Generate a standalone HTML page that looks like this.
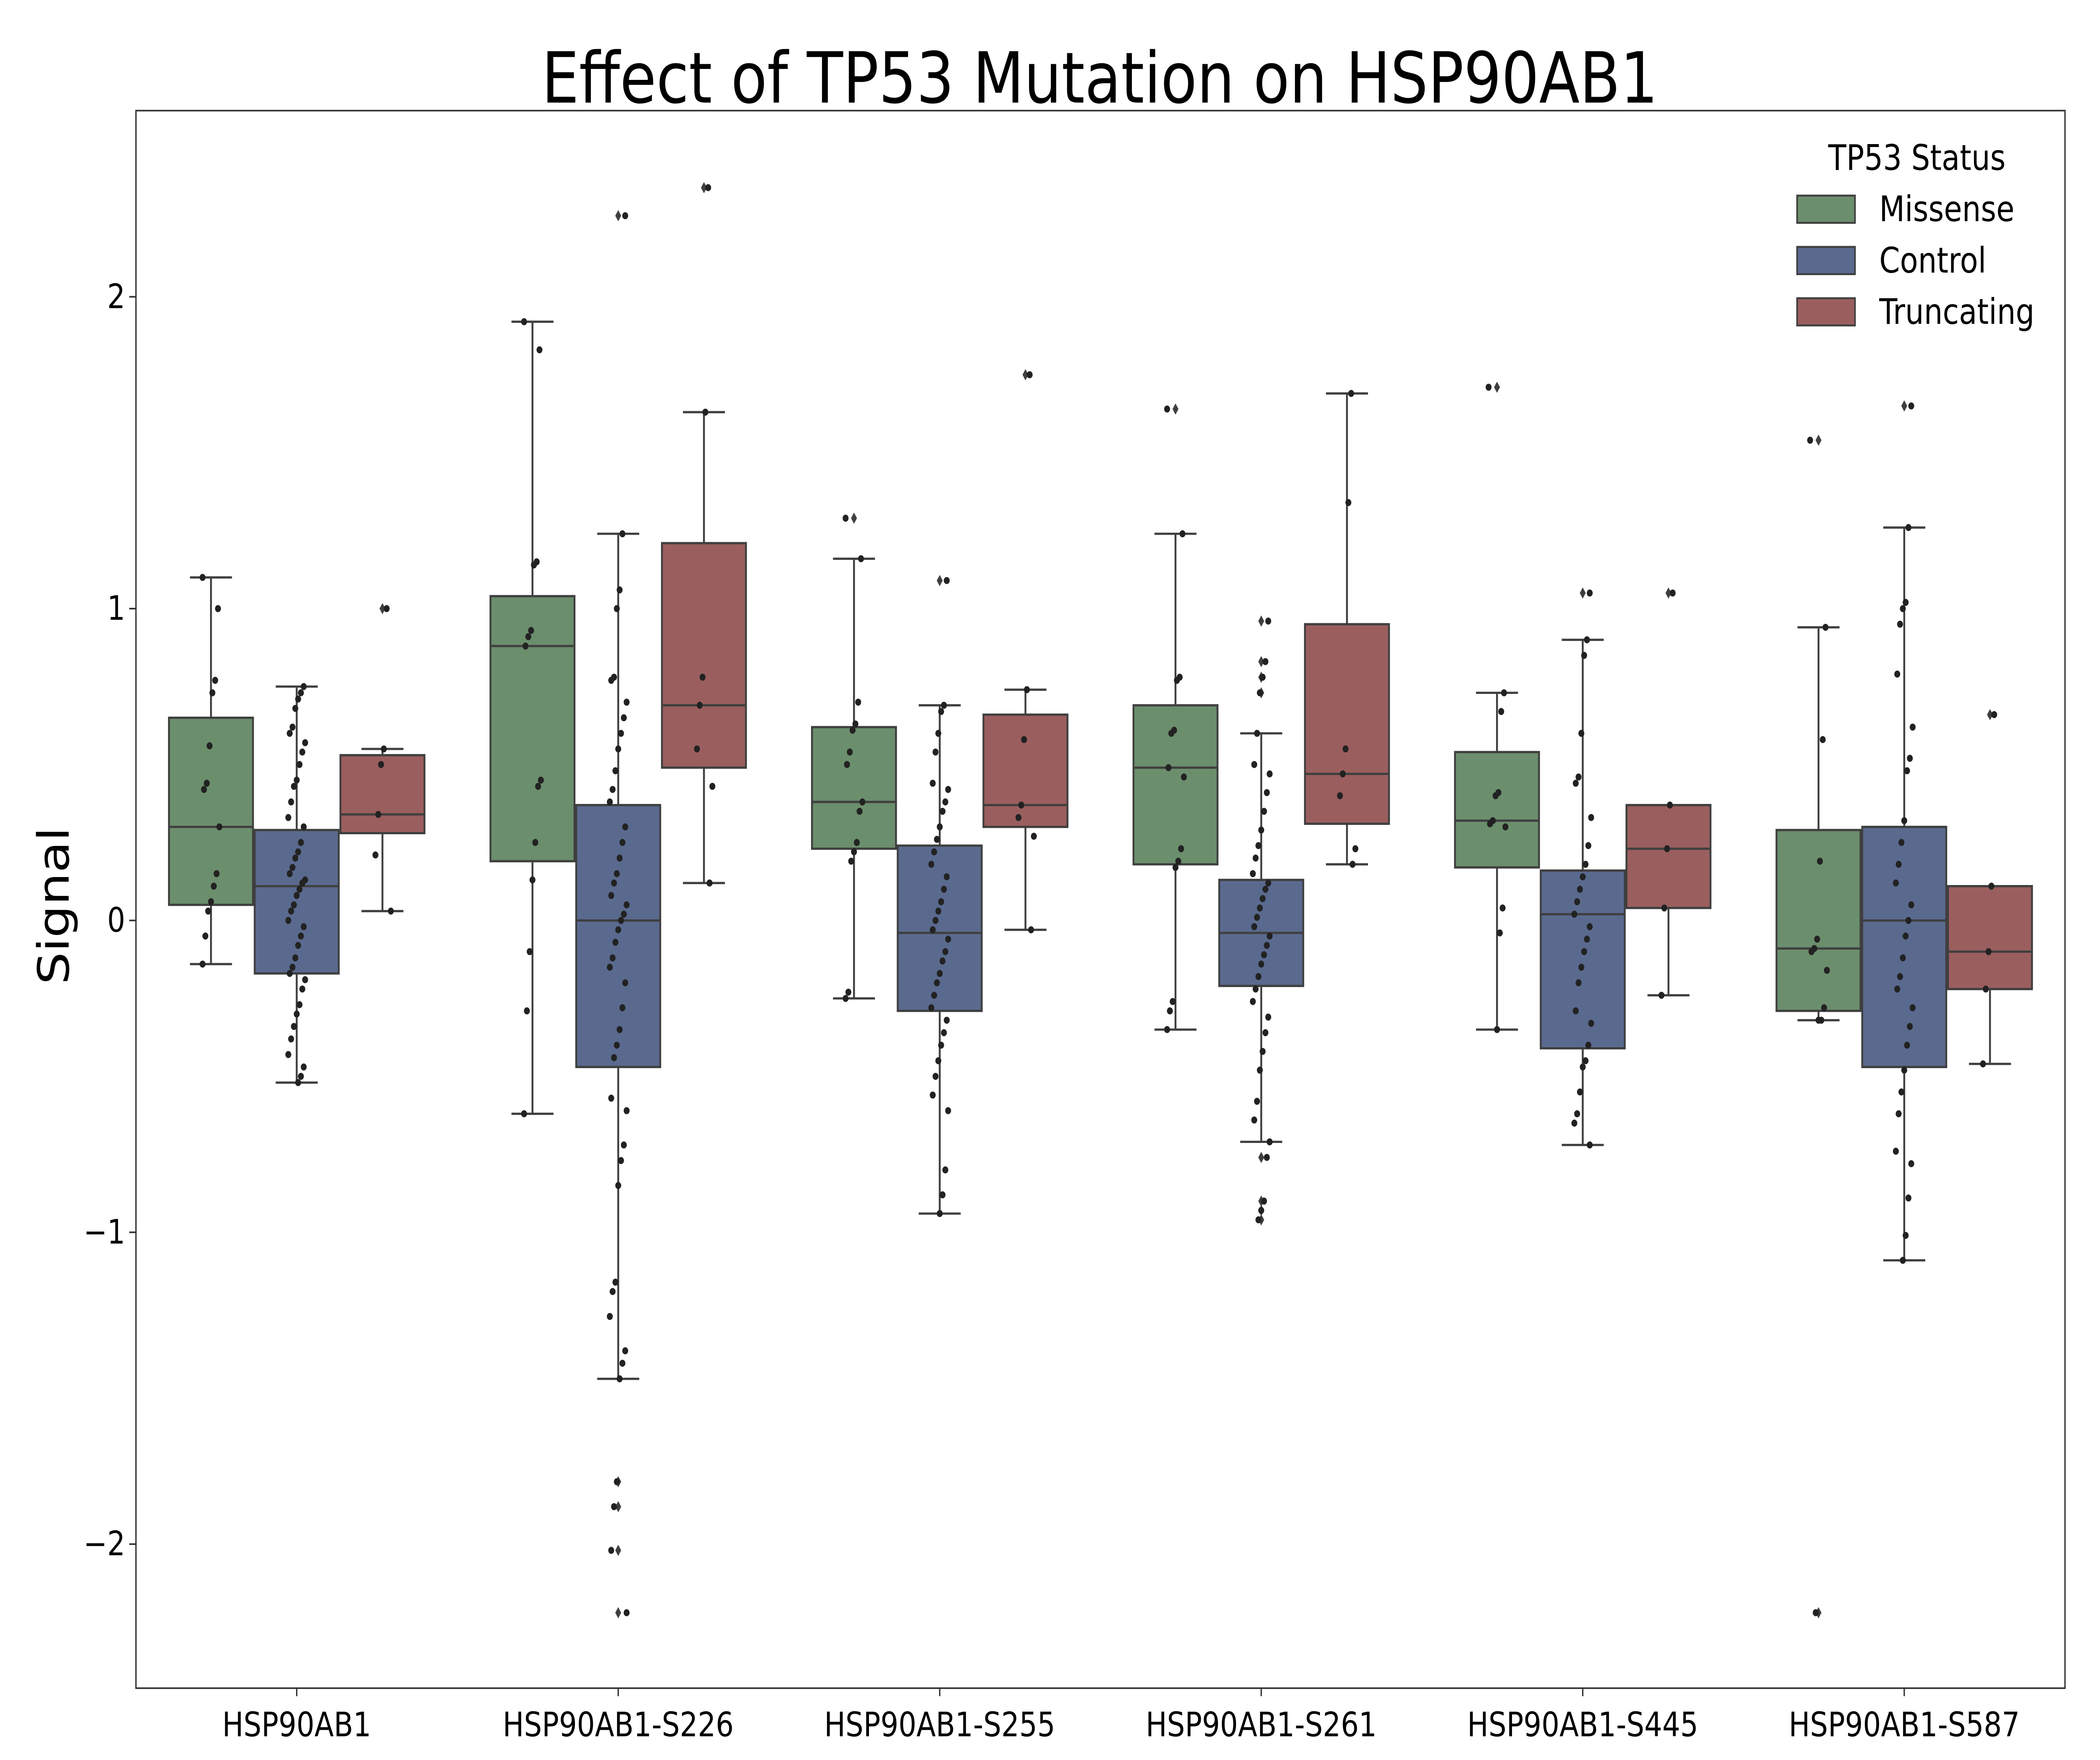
<!DOCTYPE html>
<html><head><meta charset="utf-8"><style>
html,body{margin:0;padding:0;background:#fff;width:100%;height:100%;overflow:hidden}
svg{display:block;position:fixed;left:0;top:0;width:100vw;height:100vh}
text{font-family:"DejaVu Sans","Liberation Sans",sans-serif;fill:#000}
</style></head><body>
<svg id="chart" viewBox="0 0 1560 1097.8" preserveAspectRatio="none" xmlns="http://www.w3.org/2000/svg">
<rect x="0" y="0" width="1560" height="1097.8" fill="#fff"/>
<text x="817" y="64" font-size="44" text-anchor="middle">Effect of TP53 Mutation on HSP90AB1</text>
<g id="plot"></g>
<rect x="101" y="69" width="1433" height="984" fill="none" stroke="#333" stroke-width="1"/>
<text transform="translate(51,565) rotate(-90)" font-size="32" text-anchor="middle">Signal</text>
<g>
<text x="1424" y="106" font-size="22" text-anchor="middle">TP53 Status</text>
<g><rect x="1335" y="122" width="43" height="17" fill="#6b8e6c" stroke="#3f3f3f" stroke-width="1.2"/><text x="1396" y="138" font-size="22">Missense</text></g>
<g><rect x="1335" y="154" width="43" height="17" fill="#5a6a8f" stroke="#3f3f3f" stroke-width="1.2"/><text x="1396" y="170" font-size="22">Control</text></g>
<g><rect x="1335" y="186" width="43" height="17" fill="#9b5e5e" stroke="#3f3f3f" stroke-width="1.2"/><text x="1396" y="202" font-size="22">Truncating</text></g>
</g>
</svg>
<script>
const categories=["HSP90AB1","HSP90AB1-S226","HSP90AB1-S255","HSP90AB1-S261","HSP90AB1-S445","HSP90AB1-S587"];
const hues=["Missense","Control","Truncating"];
const yTicks=[-2,-1,0,1,2];
const yTickLabels=["\u22122","\u22121","0","1","2"];
const boxStats=[
 [[-0.14,0.05,0.30,0.65,1.10],[-0.52,-0.17,0.11,0.29,0.75],[0.03,0.28,0.34,0.53,0.55]],
 [[-0.62,0.19,0.88,1.04,1.92],[-1.47,-0.47,0.00,0.37,1.24],[0.12,0.49,0.69,1.21,1.63]],
 [[-0.25,0.23,0.38,0.62,1.16],[-0.94,-0.29,-0.04,0.24,0.69],[-0.03,0.30,0.37,0.66,0.74]],
 [[-0.35,0.18,0.49,0.69,1.24],[-0.71,-0.21,-0.04,0.13,0.60],[0.18,0.31,0.47,0.95,1.69]],
 [[-0.35,0.17,0.32,0.54,0.73],[-0.72,-0.41,0.02,0.16,0.90],[-0.24,0.04,0.23,0.37,0.37]],
 [[-0.32,-0.29,-0.09,0.29,0.94],[-1.09,-0.47,0.00,0.30,1.26],[-0.46,-0.22,-0.10,0.11,0.11]]
];
const outliers=[
 [[],[],[1.00]],
 [[],[2.26,-1.80,-1.88,-2.02,-2.22],[2.35]],
 [[1.29],[1.09],[1.75]],
 [[1.64],[0.96,0.83,0.78,0.73,-0.76,-0.90,-0.93,-0.96],[]],
 [[1.71],[1.05],[1.05]],
 [[1.54,-2.22],[1.65],[0.66]]
];
const points=[
 [[1.10,1.00,0.77,0.73,0.56,0.44,0.42,0.30,0.15,0.11,0.06,0.03,-0.05,-0.14],
  [0.75,0.73,0.71,0.68,0.62,0.60,0.57,0.54,0.50,0.45,0.43,0.38,0.33,0.30,0.25,0.22,0.20,0.17,0.15,0.13,0.12,0.10,0.08,0.05,0.03,0.00,-0.02,-0.05,-0.08,-0.12,-0.15,-0.17,-0.19,-0.22,-0.27,-0.30,-0.34,-0.38,-0.43,-0.47,-0.50,-0.52],
  [1.00,0.55,0.50,0.34,0.21,0.03]],
 [[1.92,1.83,1.15,1.14,0.93,0.91,0.88,0.45,0.43,0.25,0.13,-0.10,-0.29,-0.62],
  [2.26,1.24,1.06,1.00,0.78,0.77,0.70,0.65,0.60,0.55,0.48,0.42,0.38,0.30,0.25,0.20,0.15,0.12,0.08,0.05,0.02,0.00,-0.03,-0.07,-0.12,-0.15,-0.20,-0.28,-0.35,-0.40,-0.44,-0.57,-0.61,-0.72,-0.77,-0.85,-1.16,-1.19,-1.27,-1.38,-1.42,-1.47,-1.80,-1.88,-2.02,-2.22],
  [2.35,1.63,0.78,0.69,0.55,0.43,0.12]],
 [[1.29,1.16,0.70,0.63,0.61,0.54,0.50,0.38,0.35,0.25,0.22,0.19,-0.23,-0.25],
  [1.09,0.69,0.67,0.60,0.54,0.44,0.42,0.38,0.35,0.30,0.26,0.22,0.18,0.14,0.10,0.06,0.03,0.00,-0.03,-0.06,-0.10,-0.13,-0.17,-0.20,-0.24,-0.28,-0.32,-0.36,-0.40,-0.45,-0.50,-0.56,-0.61,-0.80,-0.88,-0.94],
  [1.75,0.74,0.58,0.37,0.33,0.27,-0.03]],
 [[1.64,1.24,0.78,0.77,0.61,0.60,0.49,0.46,0.23,0.19,0.17,-0.26,-0.29,-0.35],
  [0.96,0.83,0.78,0.73,0.60,0.50,0.47,0.41,0.35,0.29,0.24,0.20,0.15,0.12,0.10,0.07,0.04,0.01,-0.02,-0.05,-0.08,-0.11,-0.14,-0.18,-0.22,-0.26,-0.31,-0.36,-0.42,-0.48,-0.58,-0.64,-0.71,-0.76,-0.90,-0.93,-0.96],
  [1.69,1.34,0.55,0.47,0.40,0.23,0.18]],
 [[1.71,0.73,0.67,0.41,0.40,0.32,0.31,0.30,0.04,-0.04,-0.35],
  [1.05,0.90,0.85,0.60,0.46,0.44,0.33,0.24,0.18,0.14,0.10,0.06,0.02,-0.02,-0.06,-0.10,-0.15,-0.20,-0.29,-0.33,-0.40,-0.45,-0.47,-0.55,-0.62,-0.65,-0.72],
  [1.05,0.37,0.23,0.04,-0.24]],
 [[1.54,0.94,0.58,0.19,-0.06,-0.09,-0.10,-0.16,-0.28,-0.32,-0.32,-2.22],
  [1.65,1.26,1.02,1.00,0.95,0.79,0.62,0.52,0.48,0.32,0.25,0.18,0.12,0.05,0.00,-0.05,-0.12,-0.18,-0.22,-0.28,-0.34,-0.40,-0.48,-0.55,-0.62,-0.74,-0.78,-0.89,-1.01,-1.09],
  [0.66,0.11,-0.10,-0.22,-0.46]]
];
const colors=["#6b8e6c","#5a6a8f","#9b5e5e"];
const NS="http://www.w3.org/2000/svg";
const L=101,R=1534,T=69,B=1053,ymin=-2.462,ymax=2.597;
function yS(v){return B-(v-ymin)/(ymax-ymin)*(B-T);}
const band=(R-L)/categories.length;
function xC(i){return L+band*(i+0.5);}
function hueX(i,h){const w=band*0.8/3;return xC(i)-band*0.4+w*(h+0.5);}
const plot=document.getElementById('plot');
function mk(tag,attrs,parent){const e=document.createElementNS(NS,tag);for(const k in attrs)e.setAttribute(k,attrs[k]);(parent||plot).appendChild(e);return e;}
const bw=band*0.8/3*0.98;
categories.forEach((c,i)=>{
  hues.forEach((h,j)=>{
    const s=boxStats[i][j];const x=hueX(i,j);
    const g=mk('g',{});
    
    
    mk('line',{x1:x,x2:x,y1:yS(s[0]),y2:yS(s[1]),stroke:'#3f3f3f','stroke-width':1.4},g);
    mk('line',{x1:x,x2:x,y1:yS(s[3]),y2:yS(s[4]),stroke:'#3f3f3f','stroke-width':1.4},g);
    mk('line',{x1:x-bw/4,x2:x+bw/4,y1:yS(s[0]),y2:yS(s[0]),stroke:'#3f3f3f','stroke-width':1.4},g);
    mk('line',{x1:x-bw/4,x2:x+bw/4,y1:yS(s[4]),y2:yS(s[4]),stroke:'#3f3f3f','stroke-width':1.4},g);
    mk('rect',{x:x-bw/2,y:yS(s[3]),width:bw,height:yS(s[1])-yS(s[3]),fill:colors[j],stroke:'#3f3f3f','stroke-width':1.4},g);
    mk('line',{x1:x-bw/2,x2:x+bw/2,y1:yS(s[2]),y2:yS(s[2]),stroke:'#3f3f3f','stroke-width':1.4},g);
    outliers[i][j].forEach(v=>{
      const d=mk('path',{d:`M${x} ${yS(v)-3.5}L${x+2.2} ${yS(v)}L${x} ${yS(v)+3.5}L${x-2.2} ${yS(v)}Z`,fill:'#3f3f3f'},g);
      
      
    });
    points[i][j].forEach((v,k)=>{
      const jit=(((k*37+j*11)%13)/12-0.5)*bw*0.2;
      const p=mk('circle',{cx:x+jit,cy:yS(v),r:2.2,fill:'#222'},g);
      
      
    });
  });
  const t=mk('text',{x:xC(i),y:B+30,'font-size':21,'text-anchor':'middle'});
  t.textContent=c;
  
  
  mk('line',{x1:xC(i),x2:xC(i),y1:B,y2:B+5,stroke:'#333','stroke-width':1});
});
yTicks.forEach((v,i)=>{
  mk('line',{x1:L-5,x2:L,y1:yS(v),y2:yS(v),stroke:'#333','stroke-width':1});
  const t=mk('text',{x:L-8,y:yS(v)+7,'font-size':21,'text-anchor':'end'});
  t.textContent=yTickLabels[i];
  
  
});
</script>
</body></html>
